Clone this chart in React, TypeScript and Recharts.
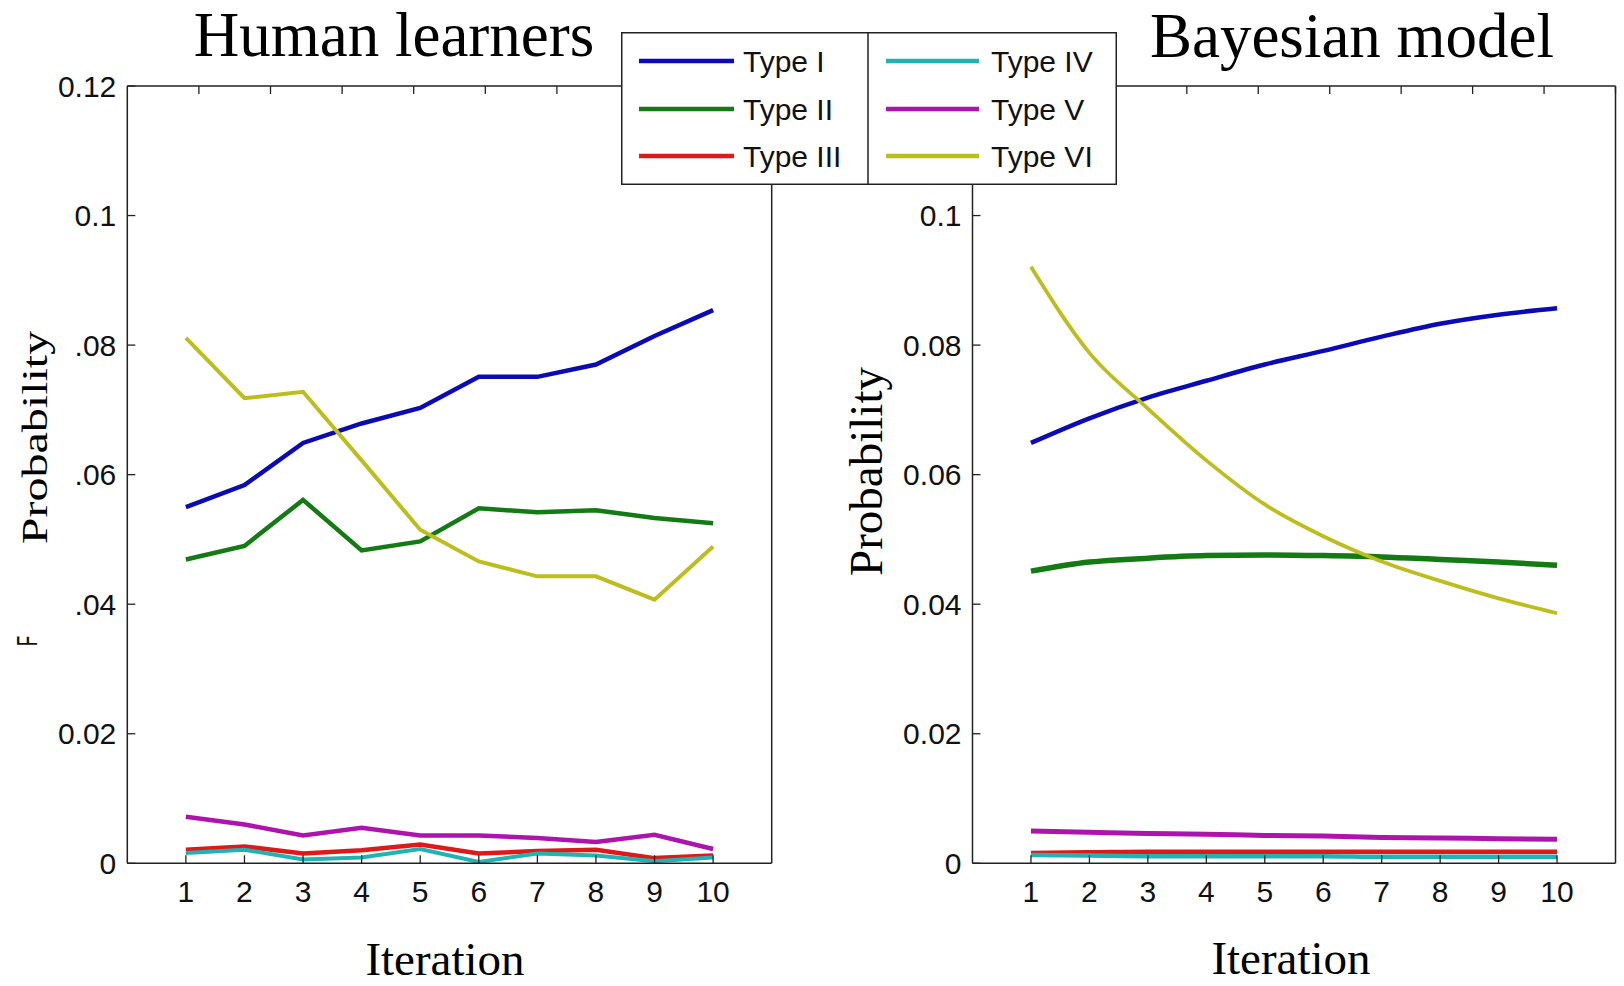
import React from 'react';
import { LineChart, Line, XAxis, YAxis } from 'recharts';

// ---------- data ----------
const iterations = [1, 2, 3, 4, 5, 6, 7, 8, 9, 10];
const seriesNames = ['Type I', 'Type II', 'Type III', 'Type IV', 'Type V', 'Type VI'];
const seriesKeys = ['t1', 't2', 't3', 't4', 't5', 't6'];
const seriesColors = ['#0b0bb6', '#147a14', '#dd1a1a', '#1fb4b4', '#ad14ad', '#bdbd1e'];

const humanTypeI = [0.0550, 0.0584, 0.0649, 0.0679, 0.0703, 0.0751, 0.0751, 0.0770, 0.0814, 0.0854];
const humanTypeII = [0.0469, 0.0490, 0.0561, 0.0483, 0.0497, 0.0548, 0.0542, 0.0545, 0.0533, 0.0525];
const humanTypeIII = [0.0021, 0.0026, 0.0015, 0.0020, 0.0029, 0.0015, 0.0019, 0.0021, 0.0008, 0.0012];
const humanTypeIV = [0.0016, 0.0021, 0.0006, 0.0009, 0.0022, 0.0002, 0.0015, 0.0012, 0.0003, 0.0009];
const humanTypeV = [0.0072, 0.0060, 0.0043, 0.0055, 0.0043, 0.0043, 0.0039, 0.0033, 0.0044, 0.0022];
const humanTypeVI = [0.0811, 0.0718, 0.0728, 0.0622, 0.0515, 0.0466, 0.0443, 0.0443, 0.0407, 0.0489];

const modelTypeI = [0.0649, 0.0687, 0.0719, 0.0745, 0.0770, 0.0791, 0.0813, 0.0833, 0.0847, 0.0857];
const modelTypeII = [0.0451, 0.0465, 0.0471, 0.0475, 0.0476, 0.0475, 0.0473, 0.0469, 0.0465, 0.0460];
const modelTypeIII = [0.0016, 0.0017, 0.0018, 0.0018, 0.0018, 0.0018, 0.0018, 0.0018, 0.0018, 0.0018];
const modelTypeIV = [0.0013, 0.0012, 0.0011, 0.0011, 0.0011, 0.0011, 0.0010, 0.0010, 0.0010, 0.0010];
const modelTypeV = [0.0050, 0.0048, 0.0046, 0.0045, 0.0043, 0.0042, 0.0040, 0.0039, 0.0038, 0.0037];
const modelTypeVI = [0.0921, 0.0788, 0.0702, 0.0622, 0.0554, 0.0505, 0.0466, 0.0436, 0.0409, 0.0386];

const yTicks = [0, 0.02, 0.04, 0.06, 0.08, 0.1, 0.12];
const humanYTickLabels = ['0', '0.02', '.04', '.06', '.08', '0.1', '0.12'];
const modelYTickLabels = ['0', '0.02', '0.04', '0.06', '0.08', '0.1', '0.12'];
const xTicks = iterations;

const humanSeries = [humanTypeI, humanTypeII, humanTypeIII, humanTypeIV, humanTypeV, humanTypeVI];
const modelSeries = [modelTypeI, modelTypeII, modelTypeIII, modelTypeIV, modelTypeV, modelTypeVI];

const buildRows = (series: number[][]) =>
  iterations.map((it, i) => {
    const row: Record<string, number> = { iter: it };
    seriesKeys.forEach((k, s) => {
      row[k] = series[s][i];
    });
    return row;
  });

const humanData = buildRows(humanSeries);
const modelData = buildRows(modelSeries);

// ---------- style ----------
const SANS = '"Liberation Sans", Arial, sans-serif';
const SERIF = '"Liberation Serif", "Times New Roman", serif';
const AXIS = '#222';
const TICK_LEN = 8;
const Y_MARGIN = 11;
const X_MARGIN = 17;
const TICK_FONT = 30;

const makeLeftTick = (labels: string[]) => (props: any) => {
  const { x, y, index } = props;
  const ax = x + Y_MARGIN;
  return (
    <g>
      <line x1={ax} x2={ax + TICK_LEN} y1={y} y2={y} stroke={AXIS} strokeWidth={1.3} />
      <text x={x} y={y} textAnchor="end" dominantBaseline="central" fontFamily={SANS} fontSize={TICK_FONT} fill="#111">
        {labels[index]}
      </text>
    </g>
  );
};

const rightTick = (props: any) => {
  const { x, y } = props;
  return <line x1={x} x2={x - TICK_LEN} y1={y} y2={y} stroke={AXIS} strokeWidth={1.3} />;
};

const topTick = (props: any) => {
  const { x, y } = props;
  return <line x1={x} x2={x} y1={y} y2={y + TICK_LEN} stroke={AXIS} strokeWidth={1.3} />;
};

const bottomTick = (props: any) => {
  const { x, y, payload } = props;
  const ay = y - X_MARGIN;
  return (
    <g>
      <line x1={x} x2={x} y1={ay} y2={ay - TICK_LEN} stroke={AXIS} strokeWidth={1.3} />
      <text x={x} y={y} dy="0.72em" textAnchor="middle" fontFamily={SANS} fontSize={TICK_FONT} fill="#111">
        {payload.value}
      </text>
    </g>
  );
};

type PanelProps = {
  data: Record<string, number>[];
  labels: string[];
  left: number;
  width: number;
  margin: { top: number; right: number; bottom: number; left: number };
  curve: 'linear' | 'monotone';
  widths: number[];
};

const Panel = ({ data, labels, left, width, margin, curve, widths }: PanelProps) => (
  <div style={{ position: 'absolute', left, top: 0, width, height: 986 }}>
    <LineChart width={width} height={986} data={data} margin={margin}>
      <XAxis
        xAxisId="b"
        dataKey="iter"
        type="number"
        domain={[0, 11]}
        ticks={xTicks}
        interval={0}
        height={30}
        tickSize={0}
        tickMargin={X_MARGIN}
        axisLine={{ stroke: AXIS, strokeWidth: 1.5 }}
        tickLine={false}
        tick={bottomTick}
      />
      <XAxis
        xAxisId="t"
        orientation="top"
        type="number"
        domain={[0, 11]}
        ticks={xTicks}
        interval={0}
        height={4}
        tickSize={0}
        tickMargin={0}
        axisLine={{ stroke: AXIS, strokeWidth: 1.5 }}
        tickLine={false}
        tick={topTick}
      />
      <YAxis
        yAxisId="l"
        type="number"
        domain={[0, 0.12]}
        ticks={yTicks}
        interval={0}
        width={60}
        tickSize={0}
        tickMargin={Y_MARGIN}
        axisLine={{ stroke: AXIS, strokeWidth: 1.5 }}
        tickLine={false}
        tick={makeLeftTick(labels)}
      />
      <YAxis
        yAxisId="r"
        orientation="right"
        type="number"
        domain={[0, 0.12]}
        ticks={yTicks}
        interval={0}
        width={4}
        tickSize={0}
        tickMargin={0}
        axisLine={{ stroke: AXIS, strokeWidth: 1.5 }}
        tickLine={false}
        tick={rightTick}
      />
      {seriesKeys.map((k, i) => (
        <Line
          key={k}
          xAxisId="b"
          yAxisId="l"
          dataKey={k}
          name={seriesNames[i]}
          type={curve}
          stroke={seriesColors[i]}
          strokeWidth={widths[i]}
          dot={false}
          activeDot={false}
          isAnimationActive={false}
        />
      ))}
    </LineChart>
  </div>
);

const Legend = () => {
  const rowsY = [29, 77, 124];
  const cols = [
    { lx1: 18, lx2: 113, tx: 122 },
    { lx1: 265, lx2: 358, tx: 370 },
  ];
  return (
    <svg
      style={{ position: 'absolute', left: 621, top: 32, overflow: 'visible' }}
      width={496}
      height={153}
    >
      <rect x={0.75} y={0.75} width={494.5} height={151.5} fill="#fff" stroke={AXIS} strokeWidth={1.5} />
      <line x1={247} x2={247} y1={0} y2={153} stroke={AXIS} strokeWidth={1.5} />
      {seriesNames.map((name, i) => {
        const c = cols[Math.floor(i / 3)];
        const y = rowsY[i % 3];
        return (
          <g key={name}>
            <line x1={c.lx1} x2={c.lx2} y1={y} y2={y} stroke={seriesColors[i]} strokeWidth={4.5} />
            <text x={c.tx} y={y} dominantBaseline="central" fontFamily={SANS} fontSize={30} fill="#111">
              {name}
            </text>
          </g>
        );
      })}
    </svg>
  );
};

const Texts = () => (
  <svg style={{ position: 'absolute', left: 0, top: 0, pointerEvents: 'none' }} width={1624} height={986}>
    <text x={394} y={56} textAnchor="middle" fontFamily={SERIF} fontSize={63} fill="#000">
      Human learners
    </text>
    <text x={1352} y={57} textAnchor="middle" fontFamily={SERIF} fontSize={63} fill="#000">
      Bayesian model
    </text>
    <text
      transform="translate(47,437.5) rotate(-90) scale(1,0.76)"
      textAnchor="middle"
      fontFamily={SERIF}
      fontSize={48}
      fill="#000"
    >
      Probability
    </text>
    <text
      transform="translate(882,471.5) rotate(-90)"
      textAnchor="middle"
      fontFamily={SERIF}
      fontSize={47}
      fill="#000"
    >
      Probability
    </text>
    <text
      transform="translate(37,641) rotate(-90) scale(0.55,1)"
      textAnchor="middle"
      fontFamily={SANS}
      fontSize={30}
      fill="#111"
    >
      F
    </text>
    <text x={445} y={975} textAnchor="middle" fontFamily={SERIF} fontSize={47} fill="#000">
      Iteration
    </text>
    <text x={1291} y={974} textAnchor="middle" fontFamily={SERIF} fontSize={47} fill="#000">
      Iteration
    </text>
  </svg>
);

export default function App() {
  return (
    <div style={{ position: 'absolute', left: 0, top: 0, width: 1624, height: 986, background: '#fff', overflow: 'hidden' }}>
      <Panel
        data={humanData}
        labels={humanYTickLabels}
        left={0}
        width={800}
        margin={{ top: 82, right: 24.3, bottom: 92.7, left: 67.3 }}
        curve="linear"
        widths={[4.5, 4.5, 4.5, 4, 4.5, 4]}
      />
      <Panel
        data={modelData}
        labels={modelYTickLabels}
        left={800}
        width={824}
        margin={{ top: 82, right: 4.5, bottom: 92.7, left: 112.5 }}
        curve="monotone"
        widths={[4.5, 5.5, 4.5, 4.5, 5, 3.8]}
      />
      <Texts />
      <Legend />
    </div>
  );
}
